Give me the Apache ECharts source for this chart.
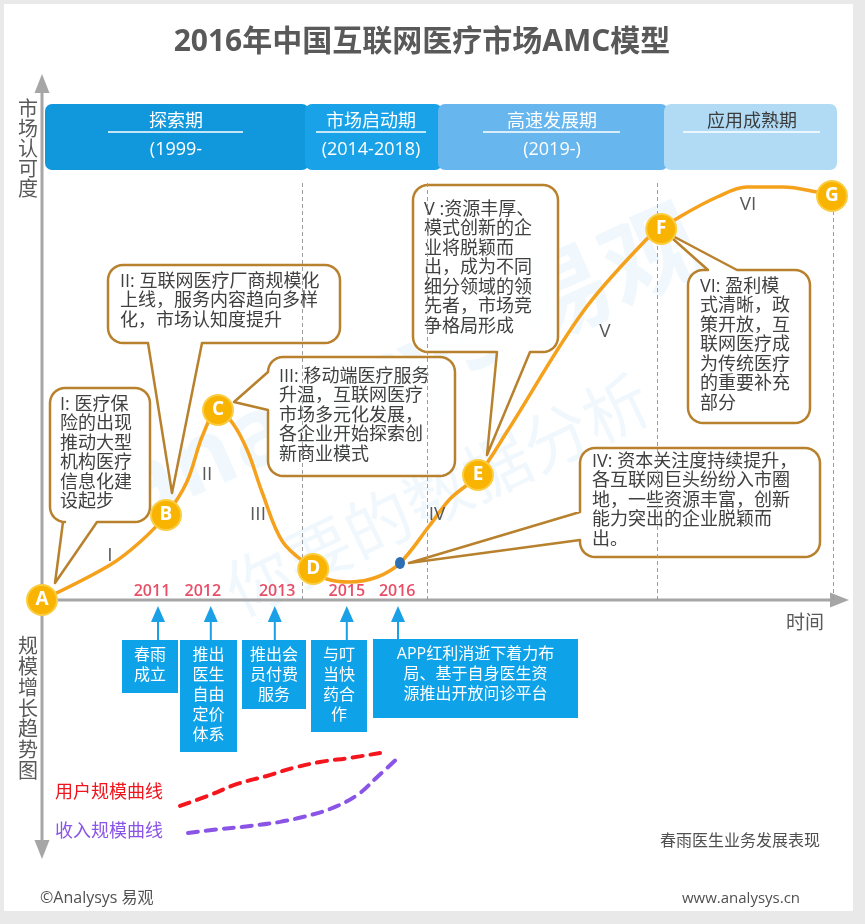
<!DOCTYPE html>
<html><head><meta charset="utf-8">
<script src="https://cdn.jsdelivr.net/npm/echarts@6/dist/echarts.min.js"></script>
<style>html,body{margin:0;padding:0;background:#e9e9e9}#c{width:865px;height:924px}</style>
</head><body><div id="c"></div>
<script>
// ================= DATA =================
// market-recognition curve (time units 0-100, recognition 0-100)
const curveX = [0, 8.5, 12.25, 15.5, 18.1, 20.1, 22, 23.9, 25.75, 27.5, 30.1, 33.9, 35.6, 38.5, 41.9, 44.75, 48.5, 51, 54.5, 58.1, 67.6, 75.6, 77.4, 80.1, 84.4, 88.1, 92.6, 96.9, 98.75];
const curveY = [0, 7, 11.6, 17, 23.6, 33, 38, 35.2, 29.6, 21.6, 11.6, 6.2, 4.2, 3.6, 4.6, 7.4, 15, 20.2, 25, 33.6, 57.6, 72.2, 74.2, 77, 80.6, 82.6, 82.6, 81.6, 80.8];
const stageLetters = ['A', 'B', 'C', 'D', 'E', 'F', 'G'];
const stageIndex = [0, 3, 6, 11, 18, 22, 28];
const marker2016Index = 15;
const stageNumerals = ['I', 'II', 'III', 'IV', 'V', 'VI'];
const phaseNames = ['探索期', '市场启动期', '高速发展期', '应用成熟期'];
const phaseYears = ['(1999-', '(2014-2018)', '(2019-)', ''];
const phaseBounds = [32.5, 48.1, 76.9, 98.9];
const eventYears = ['2011', '2012', '2013', '2015', '2016'];
const yearLabelTimes = [13.75, 20.1, 29.4, 38.1, 44.4];
const eventTimes = [14.5, 21.1, 29.1, 38.1, 44.5];
const eventTexts = ['春雨\n成立', '推出\n医生\n自由\n定价\n体系', '推出会\n员付费\n服务', '与叮\n当快\n药合\n作', 'APP红利消逝下着力布\n局、基于自身医生资\n源推出开放问诊平台'];
const userCurveX = [17.25, 21, 24.4, 28.1, 31.4, 34.75, 38.5, 42.25];
const userCurveY = [20.2, 24.4, 28.7, 31.8, 34.9, 37.2, 38.8, 40.7];
const revenueCurveX = [18.25, 22.25, 26, 29.75, 32.6, 36, 39.4, 41.9, 44.5];
const revenueCurveY = [9.7, 11.2, 12.4, 14, 15.9, 19, 24.4, 31.4, 38.8];
const calloutTexts = [
  'I: 医疗保\n险的出现\n推动大型\n机构医疗\n信息化建\n设起步',
  'II: 互联网医疗厂商规模化\n上线，服务内容趋向多样\n化，市场认知度提升',
  'III: 移动端医疗服务\n升温，互联网医疗\n市场多元化发展，\n各企业开始探索创\n新商业模式',
  'IV: 资本关注度持续提升，\n各互联网巨头纷纷入市圈\n地，一些资源丰富，创新\n能力突出的企业脱颖而\n出。',
  'V :资源丰厚、\n模式创新的企\n业将脱颖而\n出，成为不同\n细分领域的领\n先者，市场竞\n争格局形成',
  'VI: 盈利模\n式清晰，政\n策开放，互\n联网医疗成\n为传统医疗\n的重要补充\n部分'
];
const titleText = '2016年中国互联网医疗市场AMC模型';

// ================= CHART =================
const chart = echarts.init(document.getElementById('c'), null, {renderer: 'canvas'});
const LF = '"Open Sans", "Noto Sans CJK SC", sans-serif';
const zip = (xs, ys) => xs.map((x, i) => [x, ys[i]]);

const option = {
  backgroundColor: '#e9e9e9',
  animation: false,
  grid: [
    {left: 42, top: 100, width: 800, height: 500, outerBoundsMode: 'none', containLabel: false},
    {left: 42, top: 600, width: 800, height: 258, outerBoundsMode: 'none', containLabel: false}
  ],
  xAxis: [
    {type: 'value', min: 0, max: 100, show: false, gridIndex: 0},
    {type: 'value', min: 0, max: 100, show: false, gridIndex: 1}
  ],
  yAxis: [
    {type: 'value', min: 0, max: 100, show: false, gridIndex: 0},
    {type: 'value', min: 0, max: 100, show: false, gridIndex: 1}
  ],
  series: [
    {
      type: 'line', xAxisIndex: 0, yAxisIndex: 0, z: 5,
      data: zip(curveX, curveY), smooth: 0.35, symbol: 'none',
      lineStyle: {color: '#f6a11c', width: 3.5},
      markLine: {
        silent: true, symbol: 'none', animation: false,
        label: {show: false},
        lineStyle: {type: [4, 3], color: '#9c9c9c', width: 1},
        data: phaseBounds.map(x => [{coord: [x, 0]}, {coord: [x, 84]}])
      }
    },
    {
      type: 'scatter', xAxisIndex: 0, yAxisIndex: 0, z: 7,
      data: stageIndex.map((i, k) => ({value: [curveX[i], curveY[i]], name: stageLetters[k]})),
      symbolSize: 30,
      itemStyle: {color: '#f8b400', borderColor: '#fbcd45', borderWidth: 2, opacity: 1},
      label: {show: true, position: 'inside', formatter: '{b}', color: '#fff', fontSize: 19, fontWeight: 'bold', fontFamily: LF}
    },
    {
      type: 'scatter', xAxisIndex: 0, yAxisIndex: 0, z: 7,
      data: [[curveX[marker2016Index], curveY[marker2016Index]]],
      symbol: 'circle', symbolSize: [10, 12],
      itemStyle: {color: '#2e6fb4', opacity: 1}
    },
    {
      type: 'scatter', xAxisIndex: 0, yAxisIndex: 0, z: 7,
      data: yearLabelTimes.map((t, i) => ({value: [t, 1.8], name: eventYears[i]})),
      symbolSize: 1, itemStyle: {color: 'rgba(0,0,0,0)'},
      label: {show: true, position: 'inside', formatter: '{b}', color: '#e2223f', fontSize: 16, fontWeight: 600, fontFamily: LF}
    },
    {
      type: 'scatter', xAxisIndex: 1, yAxisIndex: 1, z: 7,
      data: eventTimes.map(t => [t, 91.1]),
      symbol: 'path://M7 0 L14 16 L8 16 L8 34 L6 34 L6 16 L0 16 Z', symbolSize: [14, 34],
      itemStyle: {color: '#1aa0e6', opacity: 1}
    },
    {
      type: 'line', xAxisIndex: 1, yAxisIndex: 1, z: 5,
      data: zip(userCurveX, userCurveY), smooth: 0.4, symbol: 'none',
      lineStyle: {color: '#f5151d', width: 4, type: [10, 8], cap: 'round'}
    },
    {
      type: 'line', xAxisIndex: 1, yAxisIndex: 1, z: 5,
      data: zip(revenueCurveX, revenueCurveY), smooth: 0.4, symbol: 'none',
      lineStyle: {color: '#8a55e6', width: 4, type: [10, 8], cap: 'round'}
    }
  ]
};
chart.setOption(option);

// ================= DECORATION / ANNOTATIONS =================
const px = (k) => chart.convertToPixel({gridIndex: 0}, [curveX[k], curveY[k]]);
const T = (x, y, text, o = {}) => ({
  type: 'text', x, y, z: o.z || 20, silent: true, rotation: o.rot || 0,
  style: {
    text, fill: o.color || '#595959',
    font: `${o.weight || 'normal'} ${o.size || 18}px ${o.family || LF}`,
    align: o.align || 'center', verticalAlign: o.va || 'middle',
    lineHeight: o.lh
  }
});

function calloutPoints(x, y, w, h, r, p) {
  const pts = [];
  const arc = (cx, cy, a0, a1) => {
    for (let k = 0; k <= 8; k++) {
      const a = a0 + (a1 - a0) * k / 8;
      pts.push([cx + r * Math.cos(a), cy + r * Math.sin(a)]);
    }
  };
  arc(x + r, y + r, Math.PI, 1.5 * Math.PI);
  if (p.edge === 'top') pts.push([p.a, y], p.tip, [p.b, y]);
  arc(x + w - r, y + r, 1.5 * Math.PI, 2 * Math.PI);
  if (p.edge === 'right') pts.push([x + w, p.a], p.tip, [x + w, p.b]);
  arc(x + w - r, y + h - r, 0, 0.5 * Math.PI);
  if (p.edge === 'bottom') pts.push([p.b, y + h], p.tip, [p.a, y + h]);
  arc(x + r, y + h - r, 0.5 * Math.PI, Math.PI);
  if (p.edge === 'left') pts.push([x, p.b], p.tip, [x, p.a]);
  return pts;
}

// layout of each callout: box, pointer edge, anchor curve index and tip offset
const calloutLayout = [
  {box: [50, 388, 100, 134], edge: 'bottom', a: 63, b: 97, anchor: stageIndex[0], off: [13, -17], tx: 60, ty: 395},
  {box: [108, 265, 232, 78], edge: 'bottom', a: 148, b: 202, anchor: stageIndex[1], off: [6, -22], tx: 120, ty: 272},
  {box: [268, 357, 187, 119], edge: 'left', a: 372, b: 410, anchor: stageIndex[2], off: [16, -8], tx: 279, ty: 367},
  {box: [580, 448, 240, 109], edge: 'left', a: 512, b: 540, anchor: marker2016Index, off: [9, 0], tx: 592, ty: 452},
  {box: [413, 185, 145, 167], edge: 'bottom', a: 497, b: 530, anchor: stageIndex[4], off: [9, -20], tx: 424, ty: 200},
  {box: [688, 270, 122, 153], edge: 'top', a: 708, b: 737, anchor: stageIndex[5], off: [4, 3], tx: 700, ty: 277}
];

const g = [];
// white card
g.push({type: 'rect', shape: {x: 4, y: 4, width: 849, height: 907}, style: {fill: '#ffffff'}, z: 0, silent: true});
// faint watermark
g.push(T(410, 370, 'analysys 易观', {size: 96, color: 'rgba(20,140,225,0.06)', rot: 0.42, z: 0.5, weight: 'bold'}));
g.push(T(440, 500, '你要的数据分析', {size: 66, color: 'rgba(20,140,225,0.06)', rot: 0.45, z: 0.5}));
// title
g.push(T(422, 42, titleText, {size: 30, weight: 'bold', color: '#595959'}));

// phase bands
const bandX = [45, 305, 438, 664, 837];
const bandColors = ['#1197dc', '#1aa2e8', '#67b6ee', '#b1dbf5'];
const bandCenters = [176, 371, 552, 752];
const underline = [[108, 243], [316, 426], [483, 620], [683, 820]];
for (let i = 0; i < 4; i++) {
  g.push({type: 'rect', shape: {x: bandX[i], y: 104, width: bandX[i + 1] - bandX[i] + (i < 3 ? 4 : 0), height: 66, r: 7},
    style: {fill: bandColors[i]}, z: 1 + i * 0.01, silent: true});
}
for (let i = 0; i < 4; i++) {
  const c = i === 3 ? '#3c3c3c' : '#ffffff';
  g.push(T(bandCenters[i], 122, phaseNames[i], {size: 18, color: c, z: 3}));
  g.push({type: 'line', shape: {x1: underline[i][0], y1: 132, x2: underline[i][1], y2: 132}, style: {stroke: '#ffffff', lineWidth: 1.5}, z: 3, silent: true});
  if (phaseYears[i]) g.push(T(bandCenters[i], 150, phaseYears[i], {size: 18, color: c, z: 3}));
}

// axes
const axisC = '#a6a6a6';
g.push({type: 'line', shape: {x1: 42, y1: 88, x2: 42, y2: 846}, style: {stroke: axisC, lineWidth: 3}, z: 4, silent: true});
g.push({type: 'polygon', shape: {points: [[42, 74], [34.5, 93], [49.5, 93]]}, style: {fill: axisC}, z: 4, silent: true});
g.push({type: 'polygon', shape: {points: [[42, 859], [34.5, 840], [49.5, 840]]}, style: {fill: axisC}, z: 4, silent: true});
g.push({type: 'line', shape: {x1: 42, y1: 600, x2: 834, y2: 600}, style: {stroke: axisC, lineWidth: 3}, z: 4, silent: true});
g.push({type: 'polygon', shape: {points: [[849, 600], [830, 592.5], [830, 607.5]]}, style: {fill: axisC}, z: 4, silent: true});
g.push(T(28, 100, '市场认可度'.split('').join('\n'), {size: 20, va: 'top', lh: 20}));
g.push(T(28, 637, '规模增长趋势图'.split('').join('\n'), {size: 20, va: 'top', lh: 20.8}));
g.push(T(805, 624, '时间', {size: 19}));

// stage numerals
const numeralPos = [[110, 556], [207, 475], [258, 515], [437, 515], [605, 332], [748, 205]];
stageNumerals.forEach((s, i) => g.push(T(numeralPos[i][0], numeralPos[i][1], s, {size: 19, z: 6})));

// callouts
calloutLayout.forEach((L, i) => {
  const p = px(L.anchor);
  const tip = [p[0] + L.off[0], p[1] + L.off[1]];
  const [x, y, w, h] = L.box;
  g.push({type: 'polygon', shape: {points: calloutPoints(x, y, w, h, 15, {edge: L.edge, a: L.a, b: L.b, tip})},
    style: {fill: 'rgba(255,255,255,0.92)', stroke: '#b8812d', lineWidth: 2.5, lineJoin: 'round'}, z: 2, silent: true});
  g.push(T(L.tx, L.ty, calloutTexts[i], {size: 18, align: 'left', va: 'top', lh: 19.5, color: '#404040', z: 3}));
});

// event boxes
const eventBoxes = [[122, 640, 56, 53], [180, 640, 57, 112], [242, 640, 64, 69], [311, 640, 56, 92], [373, 639, 205, 79]];
eventBoxes.forEach((b, i) => {
  g.push({type: 'rect', shape: {x: b[0], y: b[1], width: b[2], height: b[3]}, style: {fill: '#0ea2e8'}, z: 4, silent: true});
  g.push(T(b[0] + b[2] / 2, b[1] + 5, eventTexts[i], {size: 16, va: 'top', lh: 20, color: '#ffffff', z: 5}));
});

// lower legend labels & footer
g.push(T(55, 793, '用户规模曲线', {size: 18, align: 'left', color: '#f0141c'}));
g.push(T(55, 832, '收入规模曲线', {size: 18, align: 'left', color: '#8a55e6'}));
g.push(T(740, 841, '春雨医生业务发展表现', {size: 16, color: '#505050'}));
g.push(T(741, 899, 'www.analysys.cn', {size: 15, color: '#505050'}));
g.push(T(40, 898, '©Analysys 易观', {size: 16, align: 'left', color: '#505050'}));

chart.setOption({graphic: {elements: g}});
</script>
</body></html>
